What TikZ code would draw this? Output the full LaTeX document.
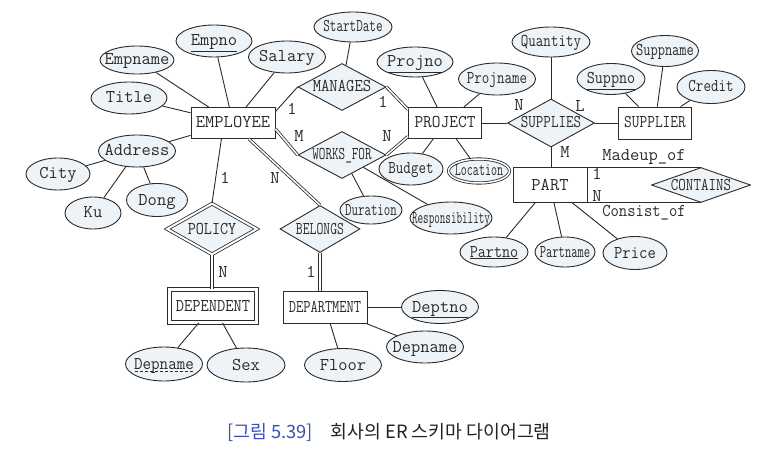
\documentclass[tikz,border=0pt]{standalone}
\usepackage{fontspec}
\newfontfamily\krfont{Noto Sans CJK KR}
\usepackage{graphicx}
\usetikzlibrary{shapes,positioning}
\definecolor{attrfill}{HTML}{EEF3F8}
\definecolor{linegray}{HTML}{2B2B2B}
\definecolor{capblue}{HTML}{3A4FB8}
\definecolor{captext}{HTML}{222222}
\newcommand{\tx}[2][1]{\makebox[0pt]{\scalebox{#1}[1]{#2}}}
\newcommand{\ul}[1]{\underline{#1}}
\newcommand{\dul}[1]{\setbox0\hbox{#1}\rlap{\hbox to \wd0{\xleaders\hbox{\kern1pt\rule[-3pt]{3pt}{0.6pt}\kern1pt}\hfill}}\box0}

\begin{document}
\begin{tikzpicture}[x=1pt, y=-1pt, line width=0.9pt, color=linegray,
		base/.style={inner sep=0pt, text height=13pt, text depth=3pt, font=\ttfamily\fontsize{18}{20}\selectfont},
		ent/.style={base, rectangle, draw, fill=white},
		attr/.style={base, ellipse, draw, fill=attrfill, minimum width=76pt, minimum height=32pt},
		rel/.style={base, diamond, draw, fill=attrfill, minimum width=88pt, minimum height=47pt},
		card/.style={base},
		dbl/.style={double, double distance=1.5pt, line width=0.8pt}]
		\fill[white] (0,0) rectangle (768,449);
		\useasboundingbox (0,0) rectangle (768,449);
		
		% Define nodes
		\node[ent, minimum width=84pt, minimum height=31pt] (emp) at (233,123) {\tx{EMPLOYEE}};
		\node[ent, minimum width=73pt, minimum height=31pt] (proj) at (445,123) {\tx[0.94]{PROJECT}};
		\node[ent, minimum width=73pt, minimum height=32pt] (supp) at (655,123) {\tx[0.83]{SUPPLIER}};
		\node[ent, minimum width=74pt, minimum height=35pt] (part) at (550,185) {\tx{PART}};
		\node[ent, double, double distance=2.5pt, line width=0.8pt, minimum width=87pt, minimum height=33pt] (dep) at (213,306) {\tx[0.89]{DEPENDENT}};
		\node[ent, minimum width=84pt, minimum height=32pt] (dept) at (325,307) {\tx[0.78]{DEPARTMENT}};
		
		\node[rel] (man) at (342,87) {\tx[0.9]{MANAGES}};
		\node[rel] (works) at (342,155) {\tx[0.71]{WORKS\_FOR}};
		\node[rel, minimum width=87pt, minimum height=48pt] (sups) at (551,123) {\tx[0.81]{SUPPLIES}};
		\node[rel, minimum width=99pt, minimum height=35pt] (cont) at (701,185) {\tx[0.81]{CONTAINS}};
		\node[rel, double, double distance=2pt, line width=0.8pt, minimum width=90pt, minimum height=51pt] (pol) at (212,229) {\tx[0.87]{POLICY}};
		\node[rel, minimum width=80pt, minimum height=47pt] (bel) at (320,229) {\tx[0.74]{BELONGS}};
		
		\node[attr, minimum width=74pt, minimum height=28pt] (empname) at (137,60) {\tx{Empname}};
		\node[attr] (empno) at (214,41) {\tx{\ul{Empno}}};
		\node[attr, minimum width=77pt] (salary) at (287,57) {\tx{Salary}};
		\node[attr] (title) at (129,98) {\tx{Title}};
		\node[attr, minimum width=77pt] (addr) at (137,151) {\tx{Address}};
		\node[attr, minimum width=64pt] (city) at (58,174) {\tx{City}};
		\node[attr, minimum width=56pt] (ku) at (93,213) {\tx{Ku}};
		\node[attr, minimum width=61pt, minimum height=33pt] (dong) at (157,200) {\tx{Dong}};
		\node[attr, minimum width=78pt, minimum height=30pt] (start) at (353,27) {\tx[0.71]{StartDate}};
		\node[attr, minimum height=30pt] (projno) at (415,62) {\tx{\ul{Projno}}};
		\node[attr, minimum width=77pt] (projname) at (497,79) {\tx[0.81]{Projname}};
		\node[attr, minimum width=64pt] (budget) at (411,169) {\tx[0.81]{Budget}};
		\node[attr, double, double distance=1.5pt, line width=0.8pt, minimum width=61pt, minimum height=24pt] (loc) at (479,171) {\tx[0.65]{Location}};
		\node[attr, minimum width=62pt, minimum height=28pt] (dur) at (371,210) {\tx[0.7]{Duration}};
		\node[attr, minimum width=82pt] (resp) at (451,218) {\tx[0.6]{Responsibility}};
		\node[attr, minimum width=78pt, minimum height=30pt] (qty) at (551,42) {\tx[0.81]{Quantity}};
		\node[attr, minimum width=68pt, minimum height=31pt] (suppno) at (611,79) {\tx[0.87]{\ul{Suppno}}};
		\node[attr, minimum width=67pt, minimum height=31pt] (suppname) at (665,51) {\tx[0.78]{Suppname}};
		\node[attr, minimum width=68pt, minimum height=33pt] (credit) at (711,87) {\tx[0.81]{Credit}};
		\node[attr, minimum width=68pt, minimum height=30pt] (partno) at (494,252) {\tx[0.87]{\ul{Partno}}};
		\node[attr, minimum width=60pt, minimum height=30pt] (partname) at (565,252) {\tx[0.68]{Partname}};
		\node[attr, minimum width=64pt, minimum height=33pt] (price) at (635,253) {\tx[0.9]{Price}};
		\node[attr, minimum width=77pt, minimum height=33pt] (deptno) at (440,307) {\tx{\ul{Deptno}}};
		\node[attr, minimum width=77pt] (dname) at (425,347) {\tx{Depname}};
		\node[attr, minimum width=77pt, minimum height=33pt] (floor) at (343,365) {\tx{Floor}};
		\node[attr, minimum width=77pt, minimum height=34pt] (depname) at (164,364) {\tx[0.92]{\dul{Depname}}};
		\node[attr, minimum width=78pt, minimum height=34pt] (sex) at (246,365) {\tx{Sex}};
		
		% Cardinalities
		\node[card] (c1) at (292,110) {1};
		\node[card] (c2) at (383,103) {1};
		\node[card] (c3) at (299,137) {M};
		\node[card] (c4) at (387,137) {N};
		\node[card] (c5) at (225,179) {1};
		\node[card] (c6) at (275,179) {N};
		\node[card] (c7) at (223,272) {N};
		\node[card] (c8) at (311,272) {1};
		\node[card] (c9) at (519,106) {N};
		\node[card] (c10) at (580,107) {L};
		\node[card] (c11) at (565,153) {M};
		\node[card] (c12) at (597,175) {1};
		\node[card] (c13) at (597,197) {N};
		\node[card] (madeup) at (644,156) {\tx{Madeup\_of}};
		\node[card] (consist) at (644,211) {\tx[0.9]{Consist\_of}};
		
		% Caption
		\node[inner sep=0pt, font=\krfont\fontsize{18.3}{21}\selectfont, text=captext] (cap) at (389,432) {{\color{capblue}[그림 5.39]}\hspace{0.75em} 회사의 ER 스키마 다이어그램};
		
		% Draw lines
		\draw (empname) -- (emp);
		\draw (empno) -- (emp);
		\draw (salary) -- (emp);
		\draw (title) -- (emp);
		\draw (addr) -- (emp);
		\draw (city) -- (addr);
		\draw (ku) -- (addr);
		\draw (dong) -- (addr);
		\draw (emp.15) -- (man.west);
		\draw[dbl] (emp.-8) -- (works.west);
		\draw[dbl] (man.east) -- (proj.160);
		\draw[dbl] (works.east) -- (proj.200);
		\draw (start) -- (man);
		\draw (works) -- (dur);
		\draw (works) -- (resp);
		\draw (projno) -- (proj);
		\draw (projname) -- (proj);
		\draw (budget) -- (proj);
		\draw (loc) -- (proj);
		\draw (proj) -- (sups);
		\draw (sups) -- (supp);
		\draw (qty) -- (sups);
		\draw (sups.south) -- (sups.south |- part.north);
		\draw (suppno) -- (supp);
		\draw (suppname) -- (supp);
		\draw (credit) -- (supp);
		\draw (part) -- (partno);
		\draw (part) -- (partname);
		\draw (part) -- (price);
		\draw (part.north east) -- (cont.north);
		\draw (part.south east) -- (cont.south);
		\draw (emp.234) -- (pol.north);
		\draw[dbl] (emp.315) -- (bel.north);
		\draw[dbl] (pol.south) -- (pol.south |- dep.north);
		\draw[dbl] (bel.south) -- (bel.south |- dept.north);
		\draw (dept.east) -- (deptno);
		\draw (dept) -- (dname);
		\draw (dept) -- (floor);
		\draw (dep) -- (depname);
		\draw (dep) -- (sex);
	\end{tikzpicture}
\end{document}
